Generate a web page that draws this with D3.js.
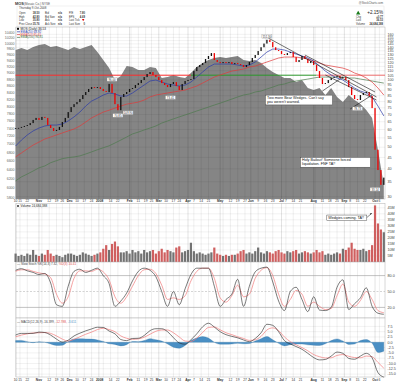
<!DOCTYPE html>
<html>
<head>
<meta charset="utf-8">
<script src="https://d3js.org/d3.v7.min.js"></script>
<style>
body { margin: 0; background: #fff; }
svg { display: block; font-family: "Liberation Sans", Arial, sans-serif; }
</style>
</head>
<body>
<div id="chart"></div>
<script>
// ---- calendar ----
var holidays = ["2007-11-22","2007-12-25","2008-01-01","2008-01-21","2008-02-18","2008-03-21","2008-05-26","2008-07-04","2008-09-01"];
var fmt = d3.timeFormat("%Y-%m-%d");
var days = d3.timeDay.range(new Date(2007, 9, 10), new Date(2008, 9, 10))
  .filter(function(d) { return d.getDay() > 0 && d.getDay() < 6 && holidays.indexOf(fmt(d)) < 0; });

// ---- data (closes every 2 sessions, indicators every 4 sessions) ----
var closes = [60.9,61.0,61.6,62.2,62.8,64.1,66.2,67.6,66.2,68.3,
  67.6,62.8,60.9,59.1,59.7,61.6,64.8,67.6,71.8,75.6,
  77.9,79.6,82.1,85.6,88.3,91.1,92.9,92.0,92.9,91.1,
  89.2,88.3,96.0,87.4,77.9,73.2,83.9,86.5,88.3,91.1,
  92.0,94.9,96.8,99.9,103.0,106.3,108.5,105.2,103.0,99.9,
  96.8,94.9,92.9,95.9,97.8,93.9,90.1,95.9,98.9,99.9,
  100.9,109.6,114.2,116.6,119.0,124.1,128.0,131.9,122.8,120.3,
  119.0,120.3,119.0,120.3,117.8,119.0,117.8,116.6,114.2,116.6,
  120.3,125.4,129.3,134.7,140.1,145.5,151.3,147.8,140.1,136.1,
  134.7,130.6,129.3,131.9,133.3,126.6,120.3,122.8,128.0,124.1,
  119.0,121.5,116.6,109.6,102.0,95.9,96.8,99.9,102.0,103.0,
  104.1,102.0,103.0,99.9,92.9,85.6,82.1,81.3,85.6,87.4,
  88.3,84.7,74.8,48.7,39.5,33.9,36.53];
var volume = [7,5,6,5,7,6,10,6,5,7,
  6,10,7,5,6,5,4,6,7,7,
  6,5,6,8,7,6,5,6,7,8,
  11,14,10,15,17,13,8,8,9,7,
  10,8,9,7,10,8,9,10,7,9,
  11,8,10,9,8,12,13,8,9,10,
  16,9,7,8,7,6,7,8,12,7,
  6,5,6,5,6,6,7,9,10,7,
  8,7,9,12,8,7,9,8,7,9,
  10,8,7,9,8,9,10,7,8,9,
  8,7,8,10,8,9,6,7,6,7,
  8,7,11,10,12,16,11,10,10,11,
  9,10,14,47,32,27,24.7];
var nya = [9766,9835,9766,9870,9940,9975,9870,9905,9835,9766,
  9870,9800,9870,9940,9697,9426,9165,8782,8908,9230,
  9197,9098,9098,9197,9165,8845,8876,8939,8876,8845,
  9002,9197,9327,9426,9493,9527,9493,9527,9560,9426,
  9392,9426,9327,9165,9034,8939,8845,8845,8720,8782,
  8538,8478,8538,8328,8538,8269,8125,8328,8183,8068,
  7897,7676,6857,6058];
var ema20 = [50.6,53.8,56.7,59.1,60.9,62.2,62.8,62.8,63.5,65.5,
  68.3,71.8,76.4,80.4,82.8,85.6,87.4,86.5,84.7,84.7,
  87.4,91.1,94.9,98.9,99.9,97.8,95.9,94.9,93.9,94.9,
  97.8,103.0,108.5,114.2,117.8,117.8,117.8,117.8,116.6,115.4,
  116.6,120.3,126.6,133.3,137.5,137.5,136.1,133.3,130.6,128.0,
  125.4,121.5,115.4,109.6,105.2,102.0,99.9,95.9,92.0,89.2,
  87.4,83.9,76.4,69.0];
var ema50 = [45.2,47.1,49.1,51.1,52.7,54.4,55.5,56.7,57.9,59.1,
  60.3,62.2,64.8,67.6,69.7,71.8,73.2,74.8,76.4,77.9,
  78.7,79.6,81.3,83.9,85.6,86.5,87.4,88.3,89.2,90.1,
  92.0,93.9,96.8,99.9,103.0,105.2,107.4,109.6,110.7,111.9,
  114.2,115.4,117.8,120.3,122.8,125.4,126.6,126.6,126.6,125.4,
  124.1,121.5,119.0,116.6,115.4,114.2,113.0,110.7,107.4,105.2,
  102.0,97.8,92.0,85.6];
var ema200 = [35.3,36.8,37.9,39.1,40.4,41.2,42.6,43.5,44.4,44.9,
  45.2,45.7,46.6,47.6,48.7,49.7,50.7,52.2,53.8,55.5,
  57.3,58.4,59.7,60.9,62.2,64.1,65.5,66.9,68.3,69.7,
  71.1,72.6,74.1,75.6,77.2,78.7,80.4,82.1,83.9,85.6,
  86.5,88.3,89.2,91.1,92.9,94.9,95.9,97.8,98.9,99.9,
  100.9,102.0,103.0,103.0,103.0,103.0,103.0,102.0,102.0,100.9,
  99.9,98.9,97.8,96.8];
var stochK = [90,93,89,86,82,84,66,25,22,60,
  88,92,86,90,94,80,65,22,32,47,
  70,88,94,90,78,50,22,50,25,55,
  82,94,94,94,60,22,35,45,73,22,
  60,87,94,96,68,32,14,50,58,35,
  12,40,15,14,20,58,72,16,27,38,
  57,22,9,7];
var stochD = [88,91,91,88,85,83,76,45,28,40,
  75,89,89,88,92,87,72,40,28,40,
  60,80,91,92,84,62,35,38,35,42,
  70,88,94,94,75,38,30,42,62,40,
  45,75,90,95,80,45,22,35,52,45,
  22,30,22,16,18,42,64,30,22,33,
  50,35,14,10];
var macd = [3.4,4.2,4.2,4.2,4.8,4.6,3.4,1.5,0.1,1.0,
  3.0,4.3,5.4,6.3,7.1,7.0,5.3,4.0,1.3,0.8,
  1.8,1.9,3.2,5.5,6.4,6.4,5.0,2.2,-0.3,-0.9,
  1.2,4.0,7.3,9.0,7.2,5.0,3.6,2.8,2.1,1.1,
  0.3,1.8,4.5,8.5,8.0,5.0,0.8,-0.8,-2.0,-3.3,
  -5.2,-7.2,-8.3,-8.1,-6.5,-4.6,-5.2,-7.6,-8.0,-6.5,
  -5.2,-7.3,-14.3,-16.4];
var signal = [2.6,3.4,4.0,4.4,4.5,4.6,4.2,3.0,1.5,0.6,
  1.4,2.6,3.8,4.8,6.0,6.6,6.0,5.0,3.0,1.9,
  1.4,1.6,2.4,3.8,5.2,5.8,5.8,4.5,2.5,0.6,
  0.4,2.0,4.6,7.0,7.2,5.9,4.5,3.6,2.6,1.8,
  0.9,1.2,2.8,5.8,6.8,5.5,2.5,0.3,-1.2,-2.5,
  -4.0,-5.8,-6.8,-7.4,-7.3,-6.2,-5.8,-6.6,-7.2,-7.3,
  -6.5,-6.8,-9.5,-12.2];
var hist = [0.8,0.9,0.3,-0.2,0.3,0.0,-0.8,-1.5,-1.4,0.4,
  1.6,1.7,1.6,1.5,1.1,0.4,-0.7,-1.0,-1.7,-1.1,
  0.4,0.3,0.8,1.7,1.2,0.6,-0.8,-2.3,-2.8,-1.5,
  0.8,2.0,2.7,2.0,0.0,-0.9,-0.9,-0.8,-0.5,-0.7,
  -0.6,0.6,1.7,2.7,1.2,-0.5,-1.7,-1.1,-0.8,-0.8,
  -1.2,-1.4,-1.5,-0.7,0.8,1.6,0.6,-1.0,-0.8,0.8,
  1.3,-0.5,-4.8,-4.2];
// hand-drawn trendlines: [session, price]
var trendlines = [
  [[173, 154], [247, 83.9]],
  [[198, 129.3], [246, 88.3]],
  [[210, 89.2], [224, 103]],
  [[212, 105.2], [247, 81.3]],
  [[229, 74.1], [244, 85.6]]
];
var priceTicks = d3.range(30, 161, 5);
var nyaTicks = d3.range(5800, 10401, 200);
var volTicks = [5, 10, 15, 20, 25, 30, 35, 40, 45];
var macdTicks = [7.5, 5, 2.5, 0, -2.5, -5, -7.5, -10, -12.5, -15];

var W = 400, H = 385, L = 16, R = 385;
var svg = d3.select("#chart").append("svg").attr("width", W).attr("height", H);

var x = d3.scaleLinear().domain([0, days.length - 1]).range([15.6, 383.8]);
var yP = d3.scaleLog().domain([29.3, 172.6]).range([199, 27]);
var yN = d3.scaleLog().domain([5765, 10594]).range([199, 27]);
var yV = d3.scaleLinear().domain([0, 49]).range([262, 203]);
var yS = d3.scaleLinear().domain([0, 100]).range([318, 265]);
var yM = d3.scaleLinear().domain([-16.37, 11.46]).range([377, 318]);

var c2 = closes.map(function(v, i) { return {i: i * 2, c: v, o: i ? closes[i - 1] : v, v: volume[i]}; });
function at4(arr) { return arr.map(function(v, i) { return {i: i * 4, v: v}; }); }

// weekly ticks; a week holding a month start is labelled with the month
var weeks = [];
days.forEach(function(d, i) {
  var prev = days[i - 1];
  if (!prev || d.getDay() < prev.getDay() || (d - prev) > 3 * 864e5) weeks.push([]);
  weeks[weeks.length - 1].push(i);
});
var ticks = weeks.map(function(w) {
  var m = w.filter(function(i) { return i > 0 && days[i].getMonth() !== days[i - 1].getMonth(); })[0];
  if (m !== undefined) return {i: m, label: days[m].getMonth() === 0 ? "2008" : d3.timeFormat("%b")(days[m]), month: true};
  return {i: w[0], label: String(days[w[0]].getDate()), month: false};
});
var labels = [];
ticks.forEach(function(t) {
  var lm = labels.filter(function(l) { return l.month; }).pop();
  if (!t.month && lm && t.i - lm.i < (lm.label === "2008" ? 4 : 3)) return;
  labels.push(t);
});

function panel(top, bottom) {
  var g = svg.append("g");
  g.append("rect").attr("x", L).attr("y", top).attr("width", R - L).attr("height", bottom - top)
    .attr("fill", "#fff").attr("stroke", "#b0b0b0").attr("stroke-width", 0.5);
  return g;
}
function vgrid(g, top, bottom) {
  g.selectAll(null).data(ticks).join("line")
    .attr("x1", function(d) { return x(d.i); }).attr("x2", function(d) { return x(d.i); })
    .attr("y1", top).attr("y2", bottom)
    .attr("stroke", "rgba(0,0,0,0.13)").attr("stroke-width", function(d) { return d.month ? 0.9 : 0.5; });
}
function hgrid(g, vals, scale) {
  g.selectAll(null).data(vals).join("line")
    .attr("x1", L).attr("x2", R).attr("y1", function(d) { return scale(d); }).attr("y2", function(d) { return scale(d); })
    .attr("stroke", "rgba(0,0,0,0.11)").attr("stroke-width", 0.5);
}
function rightLabels(vals, scale, f) {
  svg.append("g").selectAll("text").data(vals).join("text")
    .attr("x", R + 2.5).attr("y", function(d) { return scale(d) + 1.3; })
    .attr("font-size", 3.7).attr("fill", "#444").text(f);
}
function dateLabels(y) {
  svg.append("g").selectAll("text").data(labels).join("text")
    .attr("x", function(d) { return x(d.i) + (d.label === "2008" ? 0.8 : 0); }).attr("y", y).attr("text-anchor", "middle")
    .attr("font-size", 3.3).attr("font-weight", function(d) { return d.month ? "bold" : "normal"; })
    .attr("fill", "#333").text(function(d) { return d.label; });
}

// ---- header ----
var hd = svg.append("g").attr("font-size", 2.7).attr("fill", "#333");
hd.append("text").attr("x", 15).attr("y", 4.5).attr("font-size", 3.9).attr("font-weight", "bold").text("MOS");
hd.append("text").attr("x", 24).attr("y", 4.5).attr("font-size", 3).attr("fill", "#555").text("(Mosaic Co.)  NYSE");
hd.append("text").attr("x", 383).attr("y", 3.6).attr("text-anchor", "end").attr("font-size", 2.8).attr("fill", "#555").text("@StockCharts.com");
svg.append("rect").attr("x", L + 1).attr("y", 6).attr("width", R - L - 2).attr("height", 20).attr("fill", "none").attr("stroke", "#ddd").attr("stroke-width", 0.4);
hd.append("text").attr("x", 19).attr("y", 9.2).attr("font-size", 2.9).text("Thursday 9-Oct-2008");
var rows = [["Open", "38.50", "Bid", "n/a", "P/E", "7.80"], ["High", "42.80", "Bid Size", "n/a", "EPS", "4.69"],
  ["Low", "35.80", "Ask", "n/a", "Last Tick", ""], ["Prev Close", "35.76", "Ask Size", "n/a", "Last Size", "0"]];
rows.forEach(function(r, k) {
  var yy = 14 + k * 3.6;
  hd.append("text").attr("x", 19).attr("y", yy).text(r[0]);
  hd.append("text").attr("x", 39.5).attr("y", yy).attr("text-anchor", "end").attr("font-weight", "bold").text(r[1]);
  hd.append("text").attr("x", 45).attr("y", yy).text(r[2]);
  hd.append("text").attr("x", 58).attr("y", yy).attr("font-weight", "bold").text(r[3]);
  hd.append("text").attr("x", 69).attr("y", yy).text(r[4]);
  hd.append("text").attr("x", 85).attr("y", yy).attr("text-anchor", "end").attr("font-weight", "bold").text(r[5]);
});
hd.append("path").attr("d", "M82,19.1 L84.4,19.1 L83.2,21.2 Z").attr("fill", "#d00");
hd.append("path").attr("d", "M356,14.4 L358.2,10.8 L360.4,14.4 Z").attr("fill", "#1a7a1a");
hd.append("text").attr("x", 383).attr("y", 14).attr("text-anchor", "end").attr("font-size", 4.6).attr("fill", "#222").text("+2.15%");
[["Chg", "+0.77"], ["Last", "36.53"], ["Volume", "24,684,388"]].forEach(function(r, k) {
  hd.append("text").attr("x", 356).attr("y", 18 + k * 3.4).text(r[0]);
  hd.append("text").attr("x", 383).attr("y", 18 + k * 3.4).attr("text-anchor", "end").attr("font-weight", "bold").text(r[1]);
});

// ---- main price panel ----
var gm = panel(27, 199);
var area = d3.area().x(function(d) { return x(d.i); }).y0(199).y1(function(d) { return yN(d.v); });
gm.append("path").datum(at4(nya)).attr("d", area).attr("fill", "#858585");
vgrid(gm, 27, 199);
hgrid(gm, priceTicks, yP);

// level line
var levels = [[0, 120, "#ff3030"], [120, 206, "#2e9a2e"], [206, 252, "#f07070"]];
gm.selectAll(null).data(levels).join("line")
  .attr("x1", function(d) { return x(d[0]); }).attr("x2", function(d) { return d[1] === 252 ? R : x(d[1]); })
  .attr("y1", yP(105)).attr("y2", yP(105)).attr("stroke", function(d) { return d[2]; }).attr("stroke-width", 1);

var lineP = d3.line().x(function(d) { return x(d.i); }).y(function(d) { return yP(d.v); });
[[ema200, "#4d7a4d"], [ema50, "#e03a3a"], [ema20, "#2a3aa8"]].forEach(function(s) {
  gm.append("path").datum(at4(s[0])).attr("d", lineP).attr("fill", "none").attr("stroke", s[1]).attr("stroke-width", 0.7);
});

// candles
gm.selectAll(null).data(c2).join("rect")
  .attr("x", function(d) { return x(d.i) - 0.65; }).attr("width", 1.3)
  .attr("y", function(d) { return yP(Math.max(d.o, d.c)); })
  .attr("height", function(d) { return Math.max(0.8, Math.abs(yP(d.o) - yP(d.c))); })
  .attr("fill", function(d) { return d.c < d.o ? "#ee0000" : "#111"; });

// trendlines
gm.selectAll(null).data(trendlines).join("line")
  .attr("x1", function(d) { return x(d[0][0]); }).attr("y1", function(d) { return yP(d[0][1]); })
  .attr("x2", function(d) { return x(d[1][0]); }).attr("y2", function(d) { return yP(d[1][1]); })
  .attr("stroke", "#111").attr("stroke-width", 0.6);

// small value flags
var flags = [[172, 156, "151.30"], [66, 100, "96.00"], [70, 69, "70.85"], [106, 83, "73.41"], [77, 71, "109.90"], [234, 74, "78.73"], [246, 32.2, "33.14"]];
flags.forEach(function(f) {
  var g = gm.append("g").attr("transform", "translate(" + x(f[0]) + "," + yP(f[1]) + ")");
  g.append("rect").attr("x", -5).attr("y", -2.3).attr("width", 10).attr("height", 3.6).attr("fill", "#fff").attr("stroke", "#888").attr("stroke-width", 0.3);
  g.append("text").attr("text-anchor", "middle").attr("y", 0.8).attr("font-size", 2.9).attr("fill", "#333").text(f[2]);
});

// notes
function note(g, px, py, w, lines) {
  var g2 = g.append("g").attr("transform", "translate(" + px + "," + py + ")");
  g2.append("rect").attr("width", w).attr("height", lines.length * 4.2 + 1.4).attr("fill", "#fff").attr("stroke", "#333").attr("stroke-width", 0.4);
  lines.forEach(function(t, k) {
    g2.append("text").attr("x", 1.5).attr("y", 3.9 + k * 4.2).attr("font-size", 3.7).attr("fill", "#111").text(t);
  });
  return g2;
}
note(gm, x(171), yP(85.5), 67, ["Two more Bear Wedges. Can't say", "you weren't warned."]);
note(gm, x(195), yP(45), 70, ["Holy Bailout! Someone forced", "liquidation. FNF TA!!"]);

// left NYA labels + right price labels
svg.append("g").selectAll("text").data(nyaTicks).join("text")
  .attr("x", 14.5).attr("y", function(d) { return yN(d) + 1.3; }).attr("text-anchor", "end")
  .attr("font-size", 3.5).attr("fill", "#666").text(function(d) { return d; });
rightLabels(priceTicks, yP, function(d) { return d; });

// legend
var lg = svg.append("g").attr("font-size", 3.1);
lg.append("rect").attr("x", 17).attr("y", 27.8).attr("width", 2).attr("height", 2).attr("fill", "#111");
lg.append("text").attr("x", 20.5).attr("y", 29.8).attr("fill", "#222").text("MOS (Daily) 36.53");
[["EMA(20) 68.92", "#2a3aa8"], ["EMA(50) 85.61", "#e03a3a"], ["EMA(200) 96.81", "#4d7a4d"]].forEach(function(s, k) {
  var yy = 32.8 + k * 2.8;
  lg.append("line").attr("x1", 17).attr("x2", 20).attr("y1", yy - 1).attr("y2", yy - 1).attr("stroke", s[1]).attr("stroke-width", 0.7);
  lg.append("text").attr("x", 20.5).attr("y", yy).attr("fill", s[1]).text(s[0]);
});
dateLabels(202.2);

// ---- volume ----
var gv = panel(203.5, 262);
vgrid(gv, 203.5, 262);
hgrid(gv, volTicks, yV);
gv.selectAll(null).data(c2).join("rect")
  .attr("x", function(d) { return x(d.i) - 1.1; }).attr("width", 2.2)
  .attr("y", function(d) { return yV(d.v); }).attr("height", function(d) { return yV(0) - yV(d.v); })
  .attr("fill", function(d) { return d.c < d.o ? "#cf5f5f" : "#727272"; });
rightLabels(volTicks, yV, function(d) { return d + "M"; });
svg.append("rect").attr("x", 17).attr("y", 205).attr("width", 2).attr("height", 2).attr("fill", "#666");
svg.append("text").attr("x", 20.5).attr("y", 207).attr("font-size", 3.1).attr("fill", "#222").text("Volume 24,684,388");
note(gv, x(213), yV(39), 40, ["Wedgies coming. TA!!"]);
gv.append("line").attr("x1", x(213) + 40).attr("y1", yV(39) + 2.5).attr("x2", x(213) + 45).attr("y2", yV(40.5))
  .attr("stroke", "#111").attr("stroke-width", 0.5);
gv.append("path").attr("d", "M" + (x(213) + 45) + "," + yV(40.5) + " l-2,0.2 l1,1.3 Z").attr("fill", "#111");

// ---- slow stochastic ----
var gs = panel(262, 318);
vgrid(gs, 262, 318);
gs.selectAll(null).data([80, 20]).join("line").attr("x1", L).attr("x2", R)
  .attr("y1", yS).attr("y2", yS).attr("stroke", "#999").attr("stroke-width", 0.6);
gs.append("line").attr("x1", L).attr("x2", R).attr("y1", yS(50)).attr("y2", yS(50))
  .attr("stroke", "#aaa").attr("stroke-width", 0.5).attr("stroke-dasharray", "2,1.5");
var lineS = d3.line().x(function(d) { return x(d.i); }).y(function(d) { return yS(d.v); }).curve(d3.curveMonotoneX);
gs.append("path").datum(at4(stochD)).attr("d", lineS).attr("fill", "none").attr("stroke", "#f07a7a").attr("stroke-width", 0.7);
gs.append("path").datum(at4(stochK)).attr("d", lineS).attr("fill", "none").attr("stroke", "#222").attr("stroke-width", 0.6);
rightLabels([80, 50, 20], yS, function(d) { return d.toFixed(1); });
var sl = svg.append("text").attr("x", 17).attr("y", 265).attr("font-size", 3.1).attr("fill", "#444");
sl.append("tspan").text("— Slow Stoch %K(14,3) 7.32, ");
sl.append("tspan").attr("fill", "#e05050").text("%D(3) 10.41");

// ---- MACD ----
var gc = panel(318, 377);
vgrid(gc, 318, 377);
hgrid(gc, macdTicks, yM);
var areaH = d3.area().x(function(d) { return x(d.i); }).y0(yM(0)).y1(function(d) { return yM(d.v); }).curve(d3.curveMonotoneX);
gc.append("path").datum(at4(hist)).attr("d", areaH).attr("fill", "#4a8fc4").attr("stroke", "#2f6f9f").attr("stroke-width", 0.3);
var lineM = d3.line().x(function(d) { return x(d.i); }).y(function(d) { return yM(d.v); }).curve(d3.curveMonotoneX);
gc.append("path").datum(at4(signal)).attr("d", lineM).attr("fill", "none").attr("stroke", "#f07a7a").attr("stroke-width", 0.7);
gc.append("path").datum(at4(macd)).attr("d", lineM).attr("fill", "none").attr("stroke", "#222").attr("stroke-width", 0.6);
rightLabels(macdTicks, yM, function(d) { return d.toFixed(1); });
var ml = svg.append("text").attr("x", 17).attr("y", 322.5).attr("font-size", 3.1).attr("fill", "#444");
ml.append("tspan").text("— MACD(12,26,9) -16.399, ");
ml.append("tspan").attr("fill", "#e05050").text("-12.788, ");
ml.append("tspan").attr("fill", "#4a8fc4").text("-3.611");
dateLabels(381.3);
</script>
</body>
</html>
